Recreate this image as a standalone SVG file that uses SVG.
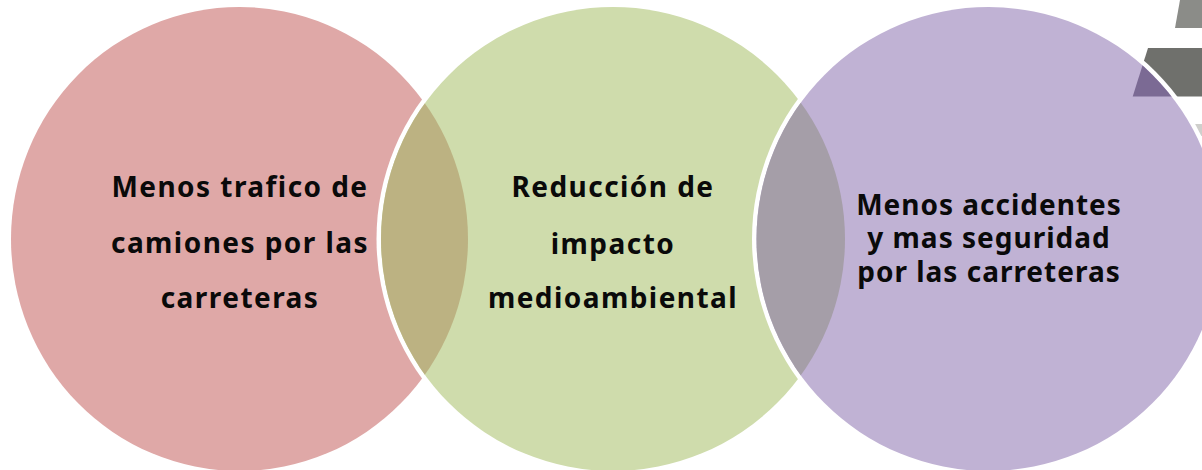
<svg xmlns="http://www.w3.org/2000/svg" width="1202" height="470" viewBox="0 0 1202 470">
<style>
.t{font-family:"Noto Sans","Open Sans","DejaVu Sans",sans-serif;font-weight:700;font-size:28px;letter-spacing:1px;fill:#0a0a0a;text-anchor:middle}
.w{letter-spacing:1.45px}
</style>
<defs>
<clipPath id="cg"><ellipse cx="613" cy="239" rx="232" ry="232"/></clipPath>
<clipPath id="cv"><ellipse cx="988.5" cy="239" rx="232" ry="232"/></clipPath>
</defs>
<rect width="1202" height="470" fill="#fff"/>
<g id="bg">
<polygon points="1180,0 1202,0 1202,28 1175,28" fill="#8b8c88"/>
<polygon points="1148,48 1202,48 1202,96.500 1132.700,96.500" fill="#6f706c"/>
<rect x="1192" y="124" width="10" height="12" fill="#cfcfcc"/>
</g>
<g id="node-red"><ellipse cx="239.500" cy="239" rx="228.500" ry="232" fill="#dfa8a7"/></g>
<g id="node-green">
<circle cx="613" cy="239" r="236.500" fill="#fff"/>
<circle cx="613" cy="239" r="232" fill="#cfdcac"/>
<ellipse cx="239.500" cy="239" rx="228.500" ry="232" fill="#bcb282" clip-path="url(#cg)"/>
</g>
<g id="node-purple">
<circle cx="988.500" cy="239" r="236.500" fill="#fff"/>
<circle cx="988.500" cy="239" r="232" fill="#c0b2d4"/>
<circle cx="613" cy="239" r="232" fill="#a59ea8" clip-path="url(#cv)"/>
<polygon points="1148,48 1202,48 1202,96.500 1132.700,96.500" fill="#7b6a94" clip-path="url(#cv)"/>
</g>
<g id="labels">
<text class="t w" x="240" y="197">Menos trafico de</text>
<text class="t w" x="240" y="253">camiones por las</text>
<text class="t w" x="240" y="308">carreteras</text>
<text class="t w" x="613" y="197">Reducción de</text>
<text class="t w" x="613" y="254">impacto</text>
<text class="t w" x="613" y="308">medioambiental</text>
<text class="t" x="989" y="215">Menos accidentes</text>
<text class="t" x="989" y="248">y mas seguridad</text>
<text class="t" x="989" y="282">por las carreteras</text>
</g>
<g id="connectors"/>
</svg>
